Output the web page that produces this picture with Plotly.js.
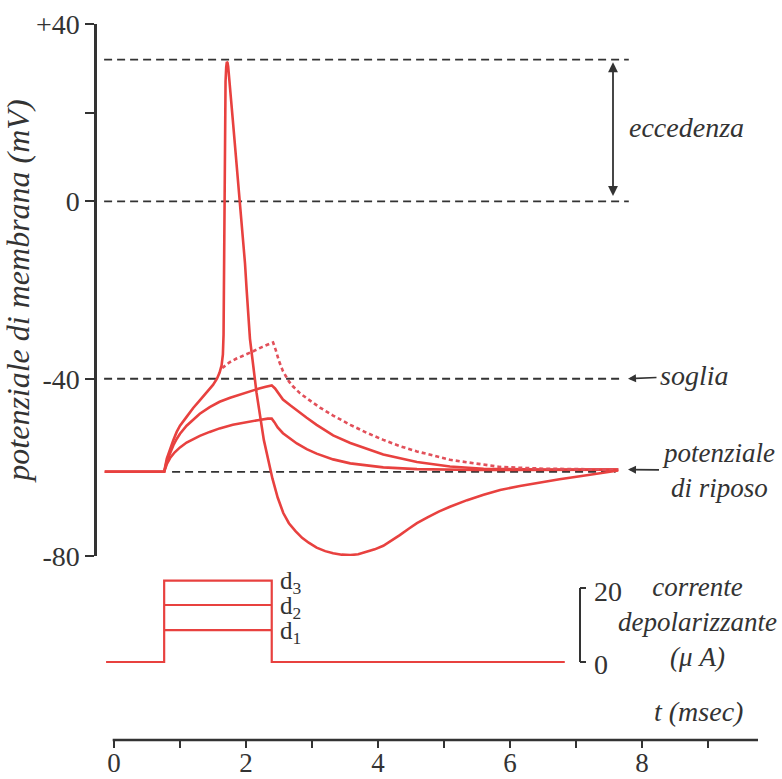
<!DOCTYPE html>
<html>
<head>
<meta charset="utf-8">
<script src="https://cdn.plot.ly/plotly-3.0.1.min.js"></script>
<style>html,body{margin:0;padding:0;background:#fff;}#chart{width:782px;height:779px;}</style>
</head>
<body>
<div id="chart"></div>
<script>
// ---------------- data ----------------
// membrane potential (mV) vs time (ms)
const d1Time = [-0.14,0.76,0.80,0.85,0.92,1.00,1.10,1.20,1.30,1.45,1.60,1.80,2.00,2.20,2.33,2.39,2.43,2.48,2.56,2.67,2.77,2.92,3.07,3.32,3.58,4.08,4.59,5.5,6.5,7.64];
const d1V    = [-61,-61,-59.3,-57.9,-56.6,-55.5,-54.4,-53.6,-52.9,-52.0,-51.2,-50.4,-49.8,-49.3,-49.0,-49.0,-49.8,-51.0,-52.3,-53.6,-54.6,-55.9,-56.9,-58.2,-59.1,-60.0,-60.4,-60.6,-60.6,-60.5];

const d2Time = [-0.14,0.76,0.80,0.85,0.90,0.95,1.00,1.10,1.20,1.30,1.45,1.60,1.76,1.90,2.06,2.20,2.30,2.39,2.44,2.48,2.56,2.67,2.82,2.92,3.07,3.32,3.58,4.08,4.59,5.09,5.6,6.5,7.64];
const d2V    = [-61,-61,-58.6,-56.6,-55.0,-53.6,-52.4,-50.6,-49.2,-47.9,-46.4,-45.2,-44.3,-43.6,-42.9,-42.2,-41.8,-41.5,-42.2,-43.0,-44.7,-46.0,-47.8,-48.8,-50.4,-52.8,-54.5,-57.1,-58.8,-59.8,-60.3,-60.5,-60.5];

const d3Time = [-0.14,0.76,0.80,0.85,0.90,0.95,1.00,1.10,1.20,1.30,1.40,1.50,1.56,1.60,1.63,1.65,1.66,1.665,1.67,1.675,1.68,1.69,1.70,1.71,1.72,1.73,1.80,1.86,1.93,1.985,2.01,2.06,2.16,2.27,2.40,2.48,2.565,2.65,2.75,2.85,2.95,3.07,3.20,3.32,3.45,3.58,3.70,3.83,3.95,4.08,4.20,4.33,4.46,4.59,4.75,4.92,5.09,5.35,5.6,5.85,6.15,6.45,6.75,7.06,7.35,7.64];
const d3V    = [-61,-61,-58.0,-55.8,-53.8,-52.0,-50.6,-48.6,-46.6,-44.9,-43.2,-41.4,-40.0,-38.6,-37.0,-34.5,-30,-20,-5,10,20,27,30.3,31.5,31.3,30.4,18.4,8.2,-3.8,-14,-20,-31,-43.2,-53.8,-62.5,-66.8,-70.3,-72.6,-74.4,-75.9,-77.0,-78.1,-78.9,-79.4,-79.7,-79.8,-79.6,-79.1,-78.5,-77.7,-76.6,-75.3,-73.9,-72.6,-71.3,-70.0,-68.9,-67.4,-66.2,-65.1,-64.2,-63.4,-62.7,-62.0,-61.3,-60.7];

// passive (no spike) continuation of d3, dotted
const passiveTime = [1.64,1.75,1.85,2.00,2.11,2.25,2.36,2.41,2.45,2.50,2.56,2.65,2.71,2.82,2.92,3.12,3.32,3.58,3.83,4.08,4.33,4.59,5.09,5.6,5.85,6.5,7.64];
const passiveV    = [-37.6,-36.3,-35.5,-34.6,-33.8,-32.8,-32.0,-31.8,-33.5,-36.0,-38.3,-40.6,-41.7,-43.3,-44.4,-46.5,-48.3,-50.4,-52.2,-53.8,-55.2,-56.4,-58.3,-59.4,-59.9,-60.3,-60.5];

// reference levels (mV)
const overshootLevel = 32;
const zeroLevel = 0;
const thresholdLevel = -40;
const restingLevel = -61;

// depolarising current (µA)
const currentTime = [-0.12, 0.76, 0.76, 2.39, 2.39, 6.83];
const currentD3   = [0, 0, 22, 22, 0, 0];
const pulseTime   = [0.76, 2.39];
const currentD2   = [15.4, 15.4];
const currentD1   = [8.6, 8.6];
const currentScale = [0, 20];

// axis ticks
const vTickVals = [40, 0, -40, -80];
const vTickText = ['+40', '0', '-40', '-80'];
const vMinorTicks = [20];
const tTickVals = [0, 2, 4, 6, 8];
const tTickText = ['0', '2', '4', '6', '8'];
const tMinorTicks = [1, 3, 5, 7, 9];

// ---------------- figure ----------------
const W = 782, H = 779;
const px = x => x / W;
const py = y => 1 - y / H;

const RED = '#e8413f';
const INK = '#333333';
const FONT = 'Liberation Serif, Times New Roman, serif';

const traces = [
  {x: d1Time, y: d1V, yaxis: 'y', mode: 'lines', line: {color: RED, width: 2.6}, hoverinfo: 'skip'},
  {x: d2Time, y: d2V, yaxis: 'y', mode: 'lines', line: {color: RED, width: 2.6}, hoverinfo: 'skip'},
  {x: passiveTime, y: passiveV, yaxis: 'y', mode: 'lines', line: {color: '#e2505a', width: 2.6, dash: '4px,3px'}, hoverinfo: 'skip'},
  {x: d3Time, y: d3V, yaxis: 'y', mode: 'lines', line: {color: RED, width: 2.6}, hoverinfo: 'skip'},
  {x: currentTime, y: currentD3, yaxis: 'y2', mode: 'lines', line: {color: RED, width: 2.2}, hoverinfo: 'skip'},
  {x: pulseTime, y: currentD2, yaxis: 'y2', mode: 'lines', line: {color: RED, width: 2.2}, hoverinfo: 'skip'},
  {x: pulseTime, y: currentD1, yaxis: 'y2', mode: 'lines', line: {color: RED, width: 2.2}, hoverinfo: 'skip'}
];

const dashStyle = {color: INK, width: 1.8, dash: '8px,5px'};
const bx = px(580), bx2 = px(586);
const shapes = [
  {type: 'line', xref: 'x', yref: 'y', x0: -0.15, x1: 7.8, y0: overshootLevel, y1: overshootLevel, line: dashStyle, layer: 'below'},
  {type: 'line', xref: 'x', yref: 'y', x0: -0.15, x1: 7.8, y0: zeroLevel, y1: zeroLevel, line: dashStyle, layer: 'below'},
  {type: 'line', xref: 'x', yref: 'y', x0: -0.15, x1: 7.7, y0: thresholdLevel, y1: thresholdLevel, line: dashStyle, layer: 'below'},
  {type: 'line', xref: 'x', yref: 'y', x0: 0.88, x1: 7.6, y0: restingLevel, y1: restingLevel, line: dashStyle, layer: 'below'},
  // time axis line (starts at t = 0)
  {type: 'line', xref: 'x', yref: 'paper', x0: -0.02, x1: 9.7576, y0: py(740), y1: py(740), line: {color: INK, width: 2.6}},
  // scale bracket for the current
  {type: 'line', xref: 'paper', yref: 'y2', x0: bx, x1: bx, y0: currentScale[0], y1: currentScale[1], line: {color: INK, width: 2}},
  {type: 'line', xref: 'paper', yref: 'y2', x0: bx, x1: bx2, y0: currentScale[1], y1: currentScale[1], line: {color: INK, width: 2}},
  {type: 'line', xref: 'paper', yref: 'y2', x0: bx, x1: bx2, y0: currentScale[0], y1: currentScale[0], line: {color: INK, width: 2}}
];

function label(t, x, y, opts) {
  return Object.assign({xref: 'paper', yref: 'paper', x: px(x), y: py(y), showarrow: false,
    xanchor: 'center', yanchor: 'middle', text: '<i>' + t + '</i>',
    font: {family: FONT, size: 28, color: INK}}, opts || {});
}

const annotations = [
  label('eccedenza', 686, 127),
  // threshold label with its arrow
  {xref: 'paper', yref: 'y', x: px(628), y: thresholdLevel, axref: 'pixel', ayref: 'pixel', ax: 66, ay: -3,
   text: '<i>soglia</i>', font: {family: FONT, size: 28, color: INK}, borderpad: 3,
   showarrow: true, arrowhead: 2, arrowsize: 1, arrowwidth: 1.6, arrowcolor: INK, standoff: 0},
  // resting potential label with its arrow
  {xref: 'paper', yref: 'y', x: px(628), y: -60.5, axref: 'pixel', ayref: 'pixel', ax: 90, ay: 1,
   text: '<i>potenziale<br>di riposo</i>', font: {family: FONT, size: 27, color: INK}, borderpad: 2,
   showarrow: true, arrowhead: 2, arrowsize: 1, arrowwidth: 1.6, arrowcolor: INK, standoff: 0},
  label('corrente<br>depolarizzante<br>(μ A)', 697, 622, {font: {family: FONT, size: 27, color: INK}}),
  label('t (msec)', 698, 711),
  // double arrow for the overshoot
  {xref: 'paper', yref: 'y', x: px(613), y: overshootLevel - 0.6, axref: 'pixel', ayref: 'y', ax: 0, ay: zeroLevel + 0.9,
   text: '', showarrow: true, arrowside: 'end+start', arrowhead: 2, arrowsize: 1.1, arrowwidth: 1.8, arrowcolor: INK},
  // current scale labels
  {xref: 'paper', yref: 'y2', x: px(592), y: currentScale[1], xanchor: 'left', yanchor: 'middle', showarrow: false,
   text: '20', font: {family: FONT, size: 28, color: INK}, yshift: -3},
  {xref: 'paper', yref: 'y2', x: px(592), y: currentScale[0], xanchor: 'left', yanchor: 'middle', showarrow: false,
   text: '0', font: {family: FONT, size: 28, color: INK}, yshift: -2},
  // pulse labels
  {xref: 'paper', yref: 'y2', x: px(278), y: currentD3[2], xanchor: 'left', yanchor: 'middle', showarrow: false,
   text: 'd<sub>3</sub>', font: {family: FONT, size: 25, color: INK}, yshift: -2},
  {xref: 'paper', yref: 'y2', x: px(278), y: currentD2[0], xanchor: 'left', yanchor: 'middle', showarrow: false,
   text: 'd<sub>2</sub>', font: {family: FONT, size: 25, color: INK}, yshift: -2},
  {xref: 'paper', yref: 'y2', x: px(278), y: currentD1[0], xanchor: 'left', yanchor: 'middle', showarrow: false,
   text: 'd<sub>1</sub>', font: {family: FONT, size: 25, color: INK}, yshift: -2}
];

const layout = {
  width: W, height: H,
  margin: {l: 0, r: 0, t: 0, b: 0},
  paper_bgcolor: '#ffffff', plot_bgcolor: 'rgba(0,0,0,0)',
  showlegend: false,
  font: {family: FONT, size: 28, color: INK},
  xaxis: {
    domain: [px(97), px(758)], range: [-0.2576, 9.7576], anchor: 'free', position: py(740),
    showline: false, showgrid: false, zeroline: false,
    ticks: 'outside', ticklen: 7, tickwidth: 2, tickcolor: INK,
    tickmode: 'array', tickvals: tTickVals, ticktext: tTickText, ticklabelstandoff: -8,
    minor: {tickmode: 'array', tickvals: tMinorTicks, ticks: 'outside', ticklen: 7, tickwidth: 2, tickcolor: INK, showgrid: false},
    tickfont: {family: FONT, size: 27, color: INK}, fixedrange: true
  },
  yaxis: {
    domain: [py(556), py(24.2)], range: [-80, 40], anchor: 'x',
    showline: true, linecolor: INK, linewidth: 2.6, showgrid: false, zeroline: false,
    ticks: 'outside', ticklen: 9, tickwidth: 2, tickcolor: INK,
    tickmode: 'array', tickvals: vTickVals, ticktext: vTickText,
    minor: {tickmode: 'array', tickvals: vMinorTicks, ticks: 'outside', ticklen: 9, tickwidth: 2, tickcolor: INK, showgrid: false},
    tickfont: {family: FONT, size: 28, color: INK},
    title: {text: '<i>potenziale di membrana (mV)</i>', font: {family: FONT, size: 32, color: INK}, standoff: 0},
    fixedrange: true
  },
  yaxis2: {
    domain: [py(669.4), py(573.2)], range: [-2, 24], anchor: 'x', visible: false, fixedrange: true
  },
  shapes: shapes,
  annotations: annotations
};

Plotly.newPlot('chart', traces, layout, {staticPlot: true, displayModeBar: false});
</script>
</body>
</html>
